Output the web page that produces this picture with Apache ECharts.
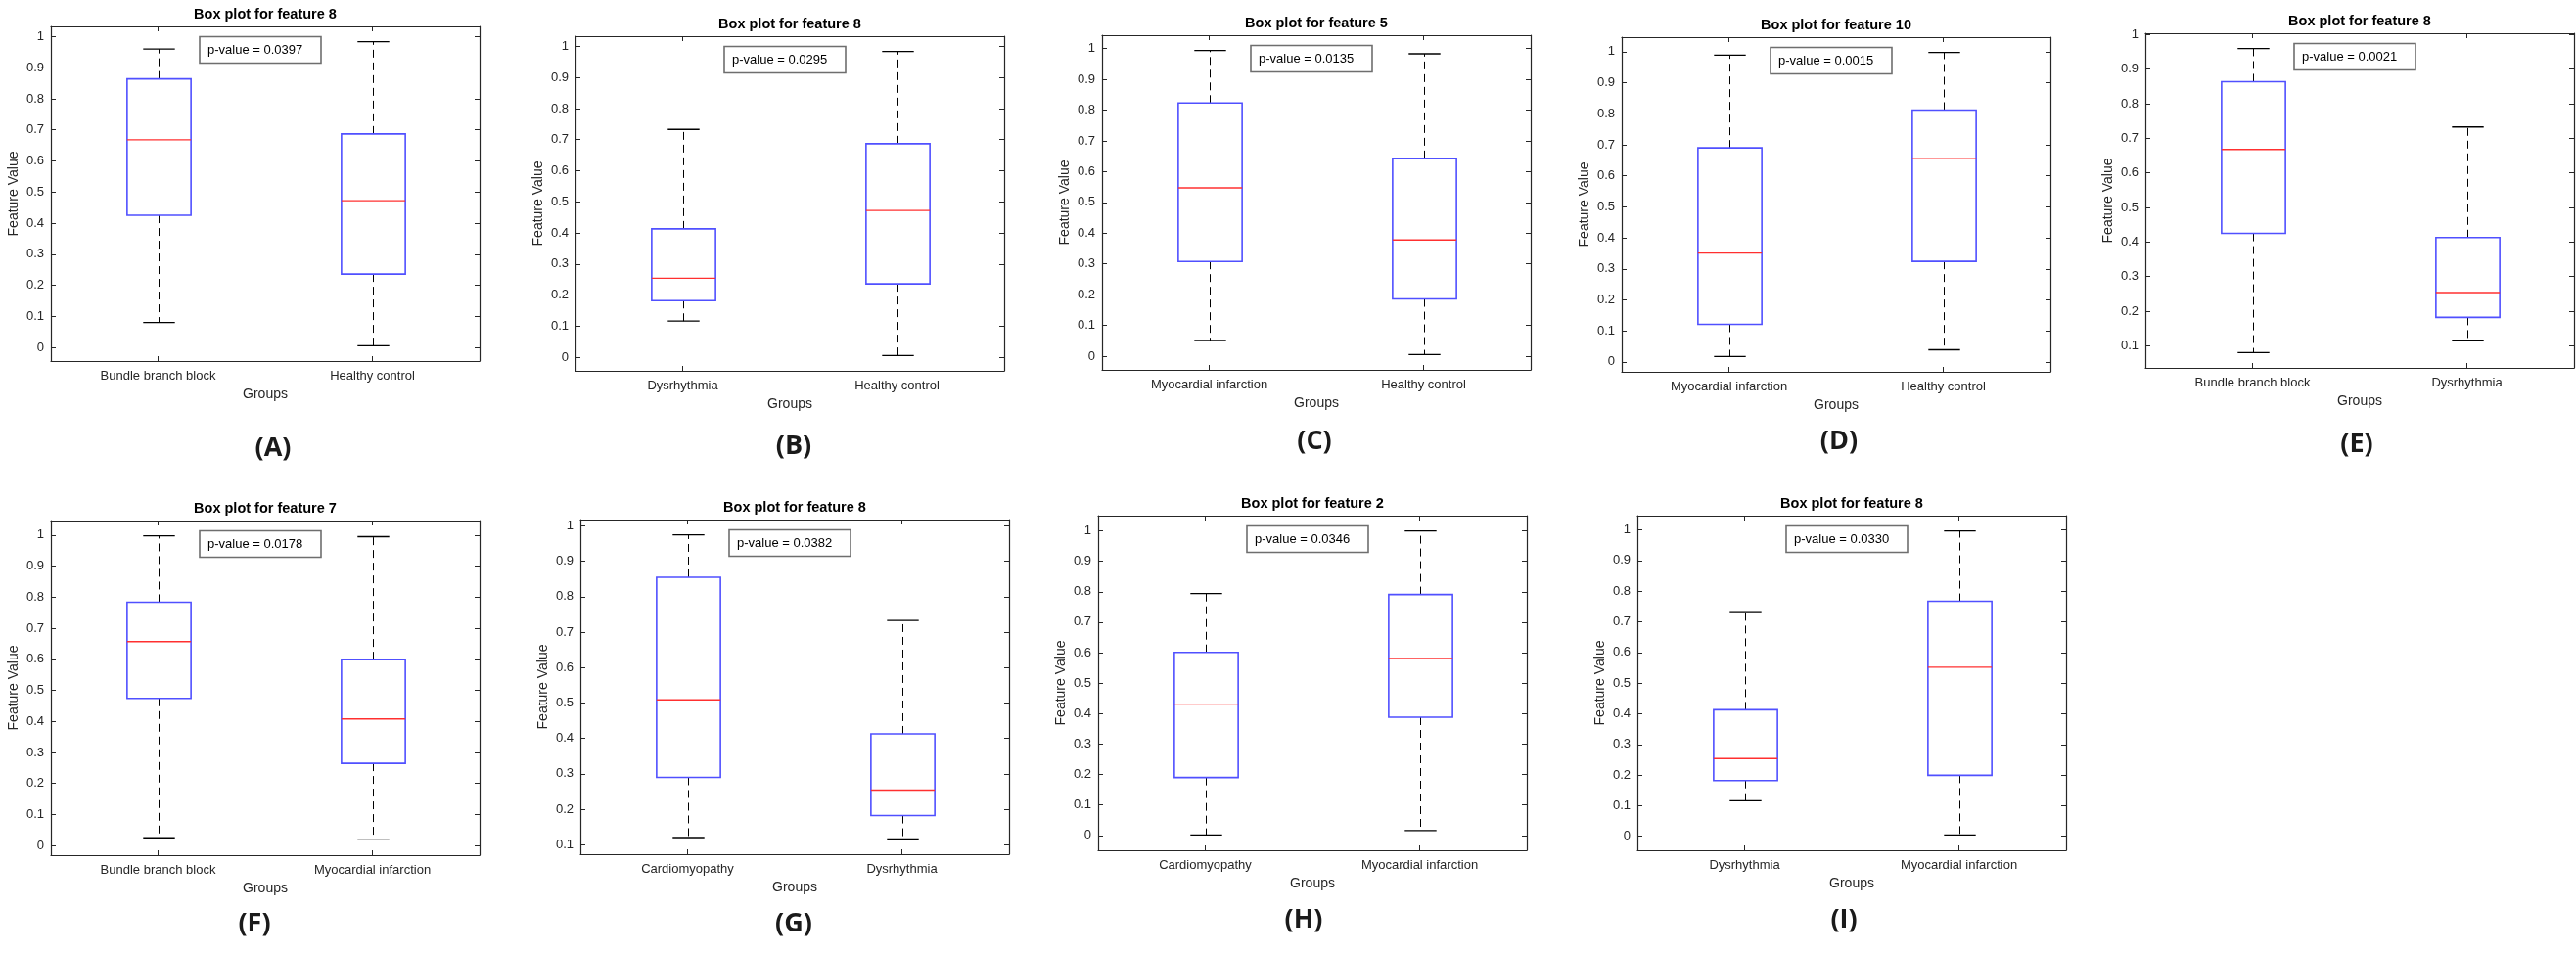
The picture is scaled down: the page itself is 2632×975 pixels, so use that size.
<!DOCTYPE html>
<html lang="en">
<head>
<meta charset="UTF-8">
<title>Box plots per feature</title>
<script src="https://cdn.jsdelivr.net/npm/echarts@6/dist/echarts.min.js"></script>
<style>html,body{margin:0;padding:0;background:#fff;}</style>
</head>
<body>
<div id="main" style="width:2632px;height:975px"></div>
<script>
  // panel data
  const panelNames = ['(A)', '(B)', '(C)', '(D)', '(E)', '(F)', '(G)', '(H)', '(I)'];
  const featureNums = [8, 8, 5, 10, 8, 7, 8, 2, 8];
  const pValues = ['0.0397', '0.0295', '0.0135', '0.0015', '0.0021', '0.0178', '0.0382', '0.0346', '0.0330'];
  const groupPairs = [
    ['Bundle branch block', 'Healthy control'],
    ['Dysrhythmia', 'Healthy control'],
    ['Myocardial infarction', 'Healthy control'],
    ['Myocardial infarction', 'Healthy control'],
    ['Bundle branch block', 'Dysrhythmia'],
    ['Bundle branch block', 'Myocardial infarction'],
    ['Cardiomyopathy', 'Dysrhythmia'],
    ['Cardiomyopathy', 'Myocardial infarction'],
    ['Dysrhythmia', 'Myocardial infarction']
  ];
  // [min, q1, median, q3, max]
  const statsA = [[0.080, 0.425, 0.668, 0.864, 0.960], [0.005, 0.236, 0.472, 0.687, 0.984]];
  const statsB = [[0.116, 0.182, 0.254, 0.413, 0.733], [0.005, 0.236, 0.472, 0.687, 0.984]];
  const statsC = [[0.051, 0.308, 0.547, 0.823, 0.994], [0.005, 0.186, 0.378, 0.643, 0.983]];
  const statsD = [[0.017, 0.121, 0.351, 0.690, 0.989], [0.039, 0.324, 0.655, 0.812, 0.998]];
  const statsE = [[0.080, 0.425, 0.668, 0.864, 0.960], [0.116, 0.182, 0.254, 0.413, 0.733]];
  const statsF = [[0.025, 0.474, 0.657, 0.784, 0.998], [0.018, 0.265, 0.408, 0.599, 0.995]];
  const statsG = [[0.120, 0.290, 0.509, 0.855, 0.975], [0.116, 0.182, 0.254, 0.413, 0.733]];
  const statsH = [[0.001, 0.190, 0.431, 0.601, 0.794], [0.016, 0.388, 0.581, 0.791, 1.000]];
  const statsI = [[0.116, 0.182, 0.254, 0.413, 0.733], [0.004, 0.199, 0.552, 0.767, 0.997]];
  const allStats = [statsA, statsB, statsC, statsD, statsE, statsF, statsG, statsH, statsI];

  // layout (pixels)
  const plotPos = [[52, 27], [588, 37], [1126, 36], [1657, 38], [2192, 34],
                   [52, 532], [593, 531], [1122, 527], [1673, 527]];
  const labelPos = [[279, 458], [811, 456], [1343, 451], [1879, 451], [2408, 454],
                    [260, 944], [811, 944], [1332, 940], [1884, 940]];
  const plotW = 438, plotH = 342;

  const FONT = '"Liberation Sans", Arial, Helvetica, sans-serif';
  const INK = '#262626';

  function renderBox(params, api) {
    var x = api.value(0);
    var lo = api.coord([x, api.value(1)]);
    var q1 = api.coord([x, api.value(2)]);
    var md = api.coord([x, api.value(3)]);
    var q3 = api.coord([x, api.value(4)]);
    var hi = api.coord([x, api.value(5)]);
    var band = api.size([1, 0])[0];
    var hw = band * 0.149, cw = band * 0.074;
    var cx = Math.round(lo[0]) + 0.5;
    var dash = {stroke: '#000', lineWidth: 1, lineDash: [8, 5]};
    var cap = {stroke: '#000', lineWidth: 1.3};
    return {
      type: 'group',
      children: [
        {type: 'line', shape: {x1: cx, y1: q3[1], x2: cx, y2: hi[1]}, style: dash},
        {type: 'line', shape: {x1: cx, y1: q1[1], x2: cx, y2: lo[1]}, style: dash},
        {type: 'line', shape: {x1: cx - cw, y1: hi[1], x2: cx + cw, y2: hi[1]}, style: cap},
        {type: 'line', shape: {x1: cx - cw, y1: lo[1], x2: cx + cw, y2: lo[1]}, style: cap},
        {type: 'rect', shape: {x: cx - hw, y: q3[1], width: hw * 2, height: q1[1] - q3[1]},
          style: {fill: 'none', stroke: '#5050ff', lineWidth: 1.6}},
        {type: 'line', shape: {x1: cx - hw, y1: md[1], x2: cx + hw, y2: md[1]},
          style: {stroke: '#ff3030', lineWidth: 1.4}}
      ]
    };
  }

  function tickLabel(v) {
    var t = Math.round(v * 10);
    if (Math.abs(v * 10 - t) > 1e-6) return '';
    return String(t / 10);
  }

  var grids = [], xAxes = [], yAxes = [], series = [], graphics = [];

  allStats.forEach(function (stats, i) {
    var p = plotPos[i];
    var lo = Math.min(stats[0][0], stats[1][0]);
    var hi = Math.max(stats[0][4], stats[1][4]);
    var pad = (hi - lo) * 0.05;   // matlab-like y limits
    var yMin = lo - pad, yMax = hi + pad;

    grids.push({left: p[0], top: p[1], width: plotW, height: plotH});

    var tick = {show: true, inside: true, length: 5, alignWithLabel: true, lineStyle: {color: INK, width: 1}};
    var line = {show: true, onZero: false, lineStyle: {color: INK, width: 1.2}};

    xAxes.push({
      gridIndex: i, type: 'category', position: 'bottom', data: groupPairs[i],
      axisLine: line, axisTick: tick, splitLine: {show: false},
      axisLabel: {margin: 9, fontSize: 13, color: INK, fontFamily: FONT},
      name: 'Groups', nameLocation: 'middle', nameGap: 27,
      nameTextStyle: {fontSize: 14, color: INK, fontFamily: FONT}
    });
    xAxes.push({
      gridIndex: i, type: 'category', position: 'top', data: groupPairs[i],
      axisLine: line, axisTick: tick, axisLabel: {show: false}, splitLine: {show: false}
    });
    yAxes.push({
      gridIndex: i, type: 'value', position: 'left', min: yMin, max: yMax, splitNumber: 10,
      axisLine: line, axisTick: {show: true, inside: true, length: 5, lineStyle: {color: INK}},
      splitLine: {show: false},
      axisLabel: {margin: 7, fontSize: 13, color: INK, fontFamily: FONT,
        showMinLabel: false, showMaxLabel: false, formatter: tickLabel},
      name: 'Feature Value', nameLocation: 'middle', nameGap: 31,
      nameTextStyle: {fontSize: 14, color: INK, fontFamily: FONT}
    });
    yAxes.push({
      gridIndex: i, type: 'value', position: 'right', min: yMin, max: yMax, splitNumber: 10,
      axisLine: line, axisTick: {show: true, inside: true, length: 5, lineStyle: {color: INK}},
      splitLine: {show: false}, axisLabel: {show: false}
    });

    series.push({
      type: 'custom',
      xAxisIndex: i * 2, yAxisIndex: i * 2,
      renderItem: renderBox,
      encode: {x: 0, y: [1, 2, 3, 4, 5]},
      data: stats.map(function (s, k) { return [k].concat(s); }),
      silent: true, animation: false
    });

    // title
    graphics.push({
      type: 'text', x: p[0] + plotW / 2, y: p[1] - 12,
      style: {text: 'Box plot for feature ' + featureNums[i], textAlign: 'center', textVerticalAlign: 'middle',
        fontSize: 14.5, fontWeight: 'bold', fontFamily: FONT, fill: '#000'}
    });
    // p-value box
    graphics.push({
      type: 'rect', z: 10,
      shape: {x: p[0] + 152, y: p[1] + 10.5, width: 124, height: 27},
      style: {fill: '#fff', stroke: '#6e6e6e', lineWidth: 1.6}
    });
    graphics.push({
      type: 'text', z: 11, x: p[0] + 160, y: p[1] + 24,
      style: {text: 'p-value = ' + pValues[i], textAlign: 'left', textVerticalAlign: 'middle',
        fontSize: 13, fontFamily: FONT, fill: '#000'}
    });
    // panel letter
    graphics.push({
      type: 'text', x: labelPos[i][0], y: labelPos[i][1],
      style: {text: panelNames[i], textAlign: 'center', textVerticalAlign: 'middle',
        fontSize: 27, fontWeight: 'bold', fontFamily: '"Open Sans", "Noto Sans", sans-serif', fill: '#1a1a1a'}
    });
  });

  var chart = echarts.init(document.getElementById('main'));
  chart.setOption({
    backgroundColor: '#fff',
    animation: false,
    grid: grids,
    xAxis: xAxes,
    yAxis: yAxes,
    series: series,
    graphic: {elements: graphics}
  });
</script>
</body>
</html>
